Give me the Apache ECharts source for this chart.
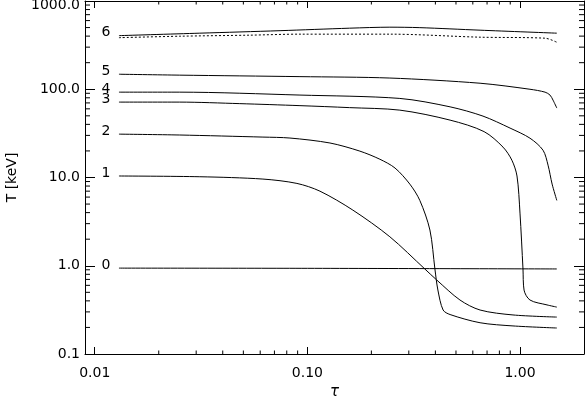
<!DOCTYPE html>
<html lang="en">
<head>
    <meta charset="UTF-8">
    <title>T vs tau</title>
    <script src="https://cdn.jsdelivr.net/npm/echarts@6/dist/echarts.min.js"></script>
    <style>
        html, body { margin: 0; padding: 0; background: #fff; }
    </style>
</head>
<body>
<div id="main" style="width: 585px;height:397px;"></div>
<script type="text/javascript">
    // curve data: [tau, T(keV)]
    var curveNames = ['0', '1', '2', '3', '4', '5', '6'];
    var curve0 = [[0.013, 0.94], [0.1, 0.935], [1.49, 0.92]];
    var curve1 = [[0.013, 10.4], [0.0312, 10.2], [0.0618, 9.6], [0.0893, 8.57], [0.1146, 7.0],
        [0.1637, 4.27], [0.2443, 2.13], [0.357, 0.918], [0.406, 0.689],
        [0.522, 0.409], [0.649, 0.315], [0.927, 0.277], [1.49, 0.262]];
    var curve2 = [[0.013, 31.0], [0.0251, 30.3], [0.0618, 28.7], [0.0828, 28.0], [0.1277, 24.6],
        [0.1766, 19.9], [0.2193, 16.1], [0.2584, 12.8], [0.3034, 8.41], [0.338, 5.5], [0.377, 2.54],
        [0.398, 0.918], [0.411, 0.531], [0.435, 0.315], [0.469, 0.28], [0.649, 0.226],
        [0.927, 0.208], [1.49, 0.197]];
    var curve3 = [[0.013, 71.5], [0.0251, 71.5], [0.0481, 68.7], [0.0923, 65.2], [0.158, 61.9],
        [0.2722, 58.0], [0.469, 44.7], [0.678, 33.1], [0.832, 22.1], [0.916, 15.7], [0.968, 10.4],
        [1.0, 3.95], [1.033, 0.918], [1.045, 0.53], [1.114, 0.409], [1.34, 0.36], [1.49, 0.34]];
    var curve4 = [[0.013, 92.7], [0.0251, 92.7], [0.0923, 85.9], [0.2722, 78.7], [0.469, 63.2],
        [0.670, 49.6], [0.898, 36.3], [1.114, 27.9], [1.283, 20.4], [1.355, 13.8],
        [1.416, 8.42], [1.49, 5.5]];
    var curve5 = [[0.013, 148], [0.0251, 144.5], [0.0923, 139], [0.2443, 134], [0.649, 117],
        [1.114, 100], [1.312, 92.7], [1.384, 85.9], [1.43, 75.3], [1.49, 61.2]];
    var curve6 = [[0.013, 405], [0.0312, 432], [0.0744, 461], [0.158, 492], [0.2443, 505],
        [0.338, 499], [0.649, 467], [1.49, 432]];
    var curve6dash = [[0.013, 384], [0.0251, 399], [0.0535, 410], [0.0923, 421], [0.2443, 421],
        [0.649, 389], [1.312, 379], [1.49, 341]];
    var curves = [curve0, curve1, curve2, curve3, curve4, curve5, curve6];

    // axis ranges and minor tick values
    var tauRange = [0.009, 2.0];
    var tRange = [0.1, 1000];
    var tauMinor = [0.02, 0.03, 0.04, 0.05, 0.06, 0.07, 0.08, 0.09,
        0.2, 0.3, 0.4, 0.5, 0.6, 0.7, 0.8, 0.9];
    var tMinor = [0.2, 0.3, 0.4, 0.5, 0.6, 0.7, 0.8, 0.9,
        2, 3, 4, 5, 6, 7, 8, 9,
        20, 30, 40, 50, 60, 70, 80, 90,
        200, 300, 400, 500, 600, 700, 800, 900];

    var myChart = echarts.init(document.getElementById('main'));

    var font = 'DejaVu Sans';
    var lineStyle = {color: '#000', width: 1};

    function xAxisOf(pos, showLabel) {
        return {
            type: 'log', logBase: 10, position: pos,
            min: tauRange[0], max: tauRange[1],
            name: showLabel ? 'τ' : '',
            nameLocation: 'middle', nameGap: 27,
            nameTextStyle: {fontFamily: font, fontSize: 15, fontStyle: 'italic', color: '#000'},
            axisLine: {show: true, lineStyle: lineStyle},
            axisTick: {show: true, inside: true, length: 7, lineStyle: lineStyle},
            axisLabel: {
                show: showLabel, showMinLabel: false, showMaxLabel: false,
                margin: 12, fontFamily: font, fontSize: 14, color: '#000',
                formatter: function (v) { return v.toFixed(2); }
            },
            splitLine: {show: false}
        };
    }
    function yAxisOf(pos, showLabel) {
        return {
            type: 'log', logBase: 10, position: pos,
            min: tRange[0], max: tRange[1],
            name: showLabel ? 'T [keV]' : '',
            nameLocation: 'middle', nameGap: 66,
            nameTextStyle: {fontFamily: font, fontSize: 14, color: '#000'},
            axisLine: {show: true, lineStyle: lineStyle},
            axisTick: {show: true, inside: true, length: 10, lineStyle: lineStyle},
            axisLabel: {
                show: showLabel, margin: 5, fontFamily: font, fontSize: 14, color: '#000',
                formatter: function (v) {
                    // top label sits a little lower so it is not cut off
                    return v >= 1000 ? '{top|' + v.toFixed(1) + '}' : v.toFixed(1);
                },
                rich: {top: {padding: [8, 0, 0, 0], fontFamily: font, fontSize: 14, color: '#000'}}
            },
            splitLine: {show: false}
        };
    }

    // minor ticks on all four sides, placed through the axis scales
    function minorTicks(params, api, isX) {
        var cs = params.coordSys;
        var v = api.value(isX ? 0 : 1);
        var p = api.coord(isX ? [v, 1] : [1, v]);
        var st = {stroke: '#000', lineWidth: 1};
        if (isX) {
            return {type: 'group', children: [
                {type: 'line', shape: {x1: p[0], y1: cs.y + cs.height, x2: p[0], y2: cs.y + cs.height - 3.5}, style: st},
                {type: 'line', shape: {x1: p[0], y1: cs.y, x2: p[0], y2: cs.y + 3.5}, style: st}
            ]};
        }
        return {type: 'group', children: [
            {type: 'line', shape: {x1: cs.x, y1: p[1], x2: cs.x + 5, y2: p[1]}, style: st},
            {type: 'line', shape: {x1: cs.x + cs.width, y1: p[1], x2: cs.x + cs.width - 5, y2: p[1]}, style: st}
        ]};
    }

    var series = curves.map(function (c, i) {
        return {
            type: 'line', data: c, smooth: 0.3,
            showSymbol: false, symbol: 'none', lineStyle: {color: '#000', width: 1},
            // curve number written just left of where the curve starts
            markPoint: {
                symbol: 'circle', symbolSize: 1, silent: true,
                itemStyle: {color: 'rgba(0,0,0,0)'},
                label: {show: true, position: 'left', distance: 8, offset: [0, -3],
                    fontFamily: font, fontSize: 14, color: '#000'},
                data: [{coord: c[0], value: curveNames[i]}]
            }
        };
    });
    series.push({
        type: 'line', data: curve6dash, smooth: 0.3, symbol: 'none',
        lineStyle: {color: '#000', width: 1, type: [2, 2]}
    });
    series.push({
        type: 'custom', silent: true, clip: false,
        data: tauMinor.map(function (v) { return [v, 1]; }),
        renderItem: function (params, api) { return minorTicks(params, api, true); }
    });
    series.push({
        type: 'custom', silent: true, clip: false,
        data: tMinor.map(function (v) { return [1, v]; }),
        renderItem: function (params, api) { return minorTicks(params, api, false); }
    });

    option = {
        animation: false,
        backgroundColor: '#fff',
        grid: {left: 85, right: 1, top: 1, bottom: 43, outerBoundsMode: 'none'},
        xAxis: [xAxisOf('bottom', true), xAxisOf('top', false)],
        yAxis: [yAxisOf('left', true), yAxisOf('right', false)],
        series: series
    };

    myChart.setOption(option);
</script>
</body>
</html>
